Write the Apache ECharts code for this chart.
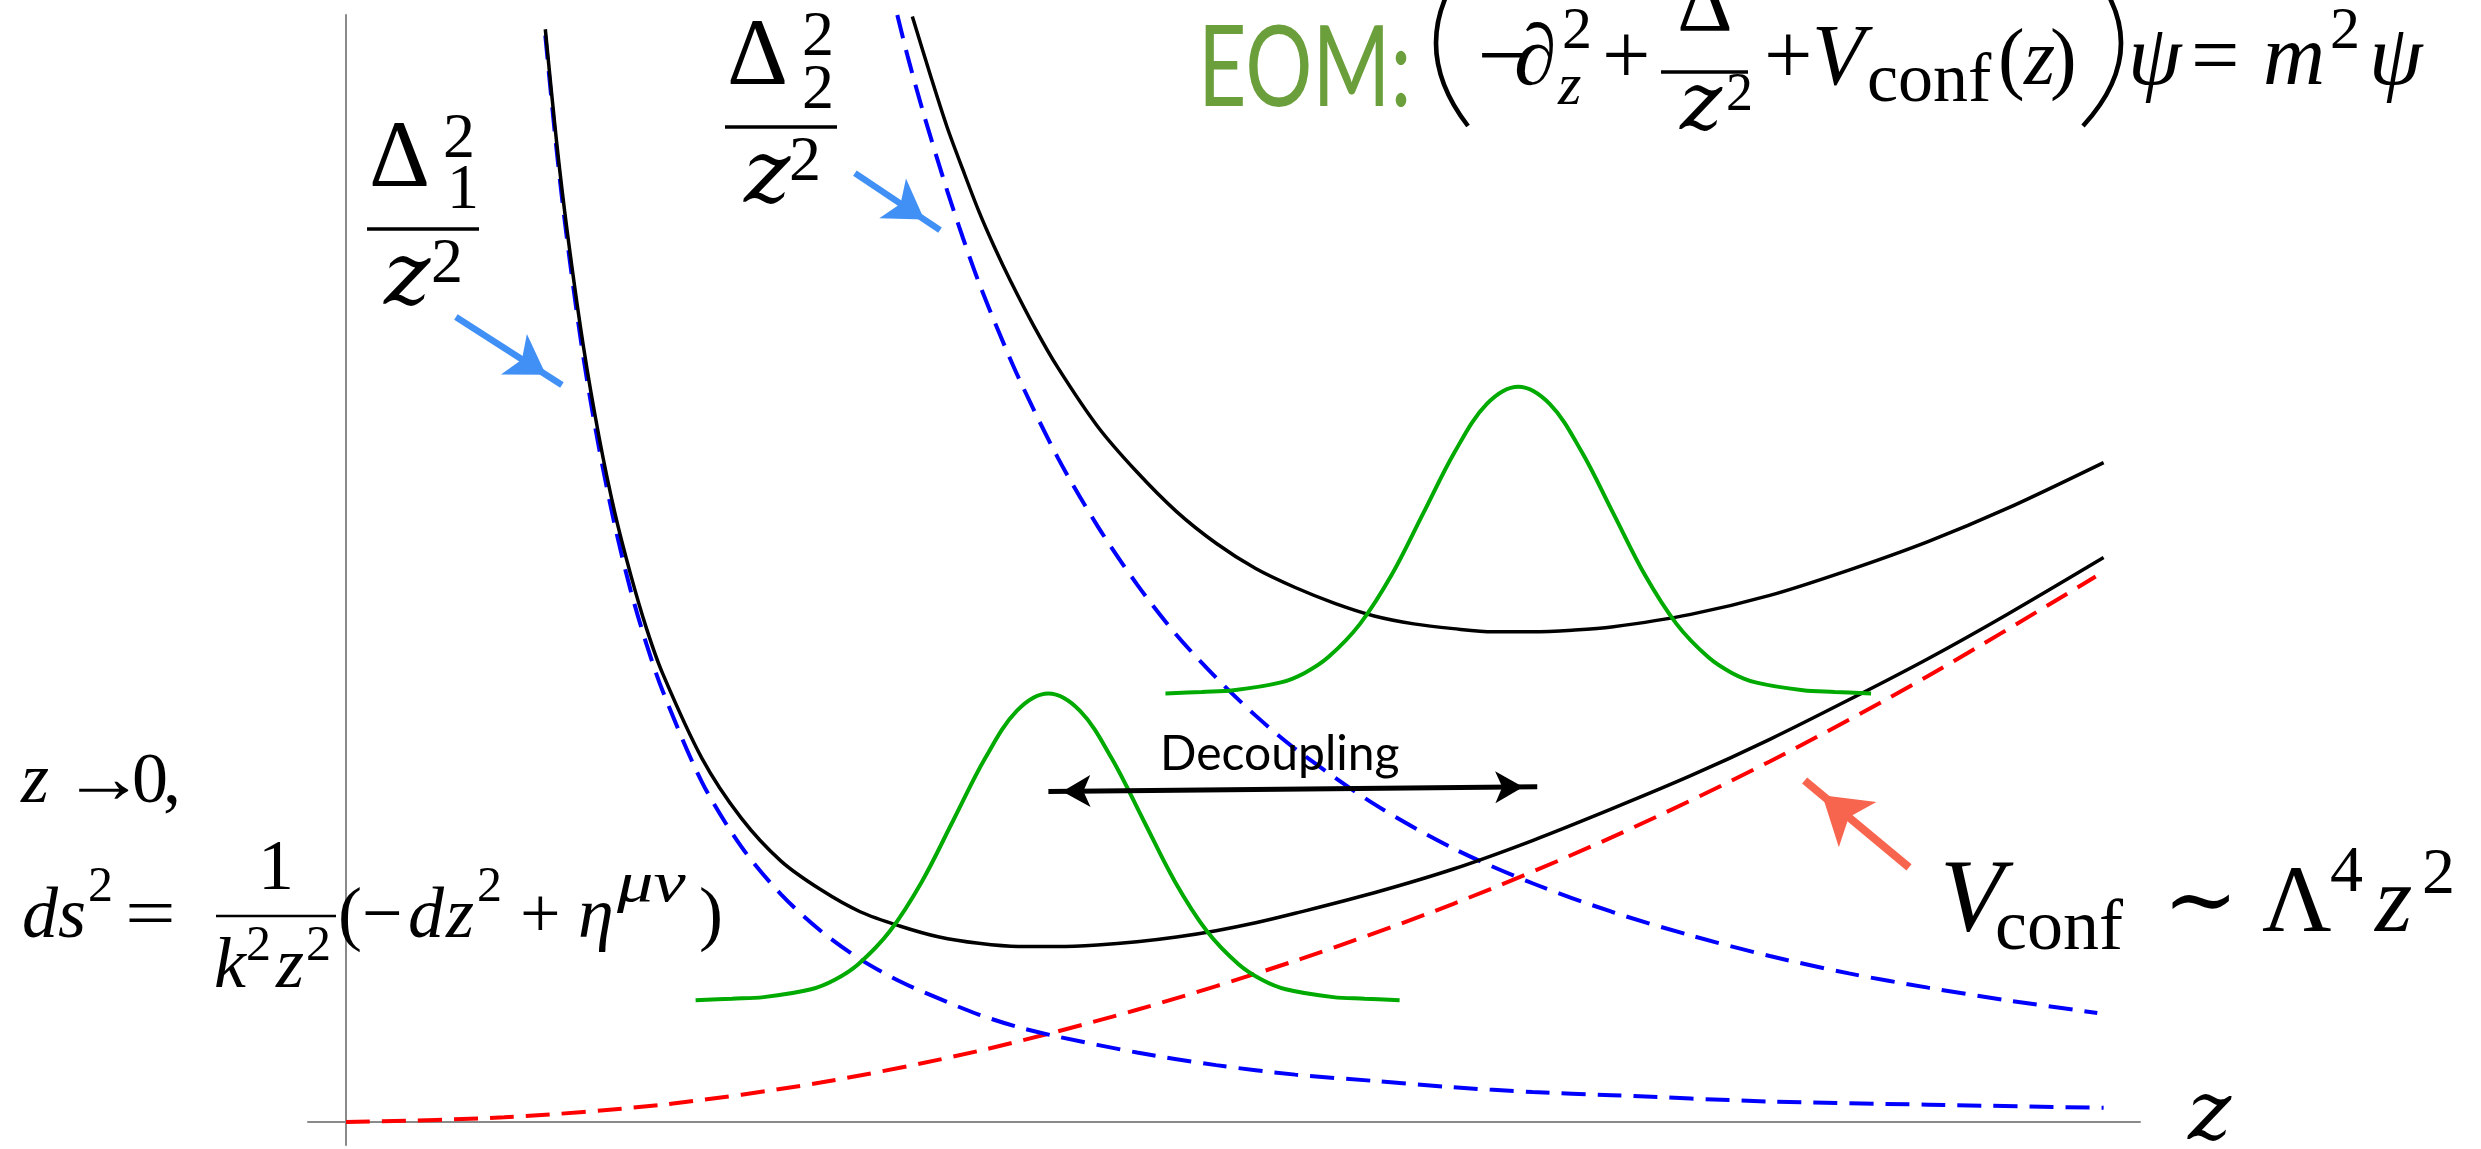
<!DOCTYPE html>
<html><head><meta charset="utf-8">
<script src="https://cdn.jsdelivr.net/npm/echarts@6/dist/echarts.min.js"></script>
<style>html,body{margin:0;padding:0;background:#fff;overflow:hidden}#c{width:2481px;height:1149px}
#pre{position:absolute;left:-5000px;top:0;font-size:40px}</style>
</head><body>
<div id="pre"><span style="font-family:'Liberation Serif'">ΔΛ2z(</span><span style="font-family:'Liberation Serif';font-style:italic">zVψηk∂</span><span style="font-family:'DejaVu Serif'">∼Δz</span><span style="font-family:'DejaVu Serif';font-style:italic">z</span><span style="font-family:Lato">EOM Decoupling</span></div>
<div id="c"></div>
<script>
// ---- data (x = z, y = potential, arbitrary units) ----
const z_conf = [0,1,2,3,4,5,6,7,8,9,10,11.06];
const v_conf = [0,0.03,0.11,0.25,0.45,0.71,1.02,1.38,1.80,2.28,2.82,3.45];

const z_d1 = [1.26,1.33,1.4,1.5,1.6,1.7,1.8,1.9,2.0,2.25,2.5,2.75,3.0,3.25,3.5,3.75,4.0,4.25,4.5,5.0,5.5,6.0,6.5,7.0,7.5,8.0,9.0,10.0,11.11];
const v_d1 = [6.87,6.16,5.56,4.84,4.26,3.77,3.36,3.02,2.73,2.15,1.74,1.44,1.21,1.03,0.89,0.78,0.68,0.60,0.54,0.44,0.36,0.30,0.26,0.22,0.19,0.17,0.13,0.11,0.09];

const z_tot1 = [1.26,1.33,1.4,1.5,1.6,1.7,1.8,1.9,2.0,2.25,2.5,2.75,3.0,3.25,3.5,3.75,4.0,4.25,4.5,4.75,5.0,5.25,5.5,5.75,6.0,6.5,7.0,7.5,8.0,8.5,9.0,9.5,10.0,10.5,11.11];
const v_tot1 = [6.91,6.21,5.62,4.91,4.33,3.85,3.46,3.12,2.84,2.30,1.92,1.65,1.47,1.33,1.24,1.17,1.13,1.11,1.11,1.12,1.14,1.17,1.21,1.26,1.32,1.45,1.60,1.78,1.98,2.19,2.42,2.67,2.93,3.21,3.57];

const z_d2 = [3.485,3.55,3.65,3.8,3.9,4.0,4.1,4.25,4.5,4.75,5.0,5.25,5.5,5.75,6.0,6.5,7.0,7.5,8.0,8.5,9.0,9.5,10.0,10.5,11.07];
const v_d2 = [7.00,6.74,6.38,5.89,5.59,5.31,5.06,4.71,4.20,3.77,3.40,3.08,2.81,2.57,2.36,2.01,1.73,1.51,1.33,1.18,1.05,0.94,0.85,0.77,0.69];

const z_tot2 = [3.58,3.7,3.8,3.9,4.0,4.1,4.2,4.35,4.5,4.75,5.0,5.25,5.5,5.75,6.0,6.25,6.5,6.75,7.0,7.25,7.5,7.75,8.0,8.5,9.0,9.5,10.0,10.5,11.11];
const v_tot2 = [6.99,6.60,6.29,6.02,5.76,5.53,5.32,5.03,4.77,4.40,4.11,3.86,3.66,3.50,3.38,3.28,3.20,3.15,3.12,3.10,3.10,3.11,3.13,3.21,3.33,3.49,3.67,3.88,4.17];

const z_psi1 = [2.21,2.44,2.64,2.94,3.09,3.24,3.44,3.64,3.84,4.04,4.24,4.44,4.64,4.84,5.04,5.24,5.44,5.64,5.79,5.94,6.24,6.44,6.66];
const v_psi1 = [0.77,0.78,0.79,0.84,0.90,1.00,1.21,1.52,1.91,2.30,2.60,2.71,2.60,2.30,1.91,1.52,1.21,1.00,0.90,0.84,0.79,0.78,0.77];

const z_psi2 = [5.18,5.41,5.61,5.91,6.06,6.21,6.41,6.61,6.81,7.01,7.21,7.41,7.61,7.81,8.01,8.21,8.41,8.61,8.76,8.91,9.21,9.41,9.64];
const v_psi2 = [2.71,2.72,2.73,2.78,2.84,2.94,3.15,3.46,3.85,4.24,4.54,4.65,4.54,4.24,3.85,3.46,3.15,2.94,2.84,2.78,2.73,2.72,2.71];

// annotation arrows: [tail, head] in data coordinates
const arrow_delta1 = [[0.695,5.09],[1.365,4.66]];
const arrow_delta2 = [[3.217,6.00],[3.755,5.64]];
const arrow_conf   = [[9.88,1.61],[9.22,2.16]];
const arrow_decoup = [[4.44,2.09],[7.53,2.12]];

// ---- helpers ----
const pts = (xs, ys) => xs.map((x, i) => [x, ys[i]]);
const SERIF = 'Liberation Serif';
const DSERIF = 'DejaVu Serif';
const SANS = 'Lato';
function txt(t, x, base, size, o) {
  o = o || {};
  const fam = o.fam || SERIF;
  const k = o.k != null ? o.k : (fam === SANS ? 0.387 : (fam === DSERIF ? 0.346 : 0.3375));
  const al = o.al || 'left';
  const el = {type:'text', x:x, y: base - k*size, silent:true, z:100,
    style:{text:t, fontFamily:fam, fontSize:size, fontStyle:o.it ? 'italic' : 'normal', fontWeight:'normal',
      fill:o.c || '#000', textAlign:al, textVerticalAlign:'middle', align:al, verticalAlign:'middle'}};
  if (o.sx) el.scaleX = o.sx;
  return el;
}
function bar(x, y, w, h) {
  return {type:'rect', silent:true, z:100, shape:{x:x, y:y - h/2, width:w, height:h}, style:{fill:'#000'}};
}
function paren(x1, y1, y2, cpx) {
  return {type:'bezierCurve', silent:true, z:100,
    shape:{x1:x1, y1:y1, x2:x1, y2:y2, cpx1:cpx, cpy1:(y1+y2)/2},
    style:{stroke:'#000', lineWidth:4.5, fill:null}};
}
const I = {it:true};
const DI = {it:true, fam:DSERIF};
const EB = 90, ES = 86, ESS = 60; // EOM formula baseline / sizes

const texts = [
  // z -> 0,
  txt('z', 21, 807, 72, I), txt('→', 62, 807, 72, {sx:1.15}), txt('0', 132, 807, 72), txt(',', 163, 807, 72),
  // ds^2 = 1/(k^2 z^2)(-dz^2 + eta^{mu nu})
  txt('ds', 22, 942, 72, I), txt('2', 88, 905, 50), txt('=', 125, 942, 72, {sx:1.25}),
  bar(216, 916, 120, 2.5),
  txt('1', 258, 894, 72),
  txt('k', 214, 992, 72, I), txt('2', 246, 964, 50), txt('z', 276, 992, 72, I), txt('2', 306, 964, 50),
  txt('(', 338, 942, 72), txt('−', 362, 942, 72), txt('d', 408, 942, 72, I), txt('z', 446, 942, 72, I),
  txt('2', 477, 905, 50), txt('+', 520, 942, 72), txt('η', 578, 942, 72, I), txt('μν', 617, 905, 58, {it:true, sx:1.25}),
  txt(')', 699, 942, 72),
  // V_conf ~ Lambda^4 z^2
  txt('V', 1940, 938, 104, I), txt('conf', 1995, 954, 72),
  txt('∼', 2163, 938, 90, {fam:DSERIF}),
  txt('Λ', 2262, 938, 96), txt('4', 2330, 896, 66), txt('z', 2375, 938, 96, I), txt('2', 2422, 898, 66),
  // axis label
  txt('z', 2188, 1146, 82, DI),
  // Decoupling
  txt('Decoupling', 1160, 773, 48, {fam:SANS}),
  // EOM
  txt('EOM:', 1198, 113, 112, {fam:SANS, c:'#6a9f3b', sx:0.75}),
  paren(1468, -40, 126, 1404),
  txt('−', 1478, EB, ES), txt('∂', 1514, EB, ES, I), txt('2', 1562, EB-38, ESS), txt('z', 1558, EB+18, ESS, I),
  txt('+', 1602, EB, ES),
  bar(1661, 72, 87, 3.5),
  txt('Δ', 1705, 36, ES, {al:'center'}),
  txt('z', 1680, 136, 80, DI), txt('2', 1726, 114, 54),
  txt('+', 1764, EB, ES),
  txt('V', 1812, EB, ES, I), txt('conf', 1867, EB+16, 70),
  txt('(', 1998, EB, 80), txt('z', 2024, EB, 80, I), txt(')', 2050, EB, 80),
  paren(2083, -40, 126, 2159),
  txt('ψ', 2128, EB, ES, I), txt('=', 2191, EB, ES), txt('m', 2263, EB, ES, I), txt('2', 2330, EB-38, ESS),
  txt('ψ', 2369, EB, ES, I),
  // Delta_1^2 / z^2
  txt('Δ', 369, 193, 95), txt('2', 443, 162, 64), txt('1', 447, 213, 64),
  bar(367, 229, 112, 3.5),
  txt('z', 384, 312, 88, DI), txt('2', 431, 287, 64),
  // Delta_2^2 / z^2
  txt('Δ', 727, 91, 95), txt('2', 802, 60, 64), txt('2', 802, 113, 64),
  bar(725, 127, 112, 3.5),
  txt('z', 744, 210, 88, DI), txt('2', 789, 185, 64)
];

const axisCommon = {type:'value', axisLine:{show:true, onZero:true, lineStyle:{color:'#8a8a8a', width:2}},
  axisTick:{show:false}, axisLabel:{show:false}, splitLine:{show:false}};

function lineSeries(name, data, color, width, dashed, smooth, extra) {
  return Object.assign({name:name, type:'line', data:data, showSymbol:false, symbol:'none', smooth:smooth,
    lineStyle:{color:color, width:width, type: dashed ? dashed : 'solid', cap:'butt'},
    emphasis:{disabled:true}, silent:true, clip:true}, extra || {});
}
const ml = (arrs, color, width, size, both) => ({
  silent:true, animation:false, label:{show:false}, emphasis:{disabled:true},
  symbol: both ? ['arrow','arrow'] : ['none','arrow'], symbolSize:size,
  symbolOffset: both ? [[0, size[1]/2],[0, size[1]/2]] : [0, [0, size[1]/2]],
  lineStyle:{color:color, width:width, type:'solid', opacity:1},
  data: arrs.map(a => [{coord:a[0]}, {coord:a[1]}])
});

const DASH = [24, 12];
const option = {
  animation:false,
  backgroundColor:'#ffffff',
  grid:{left:308, top:15, width:1832, height:1130, containLabel:false, outerBoundsMode:'none'},
  xAxis:Object.assign({min:-0.24, max:11.34}, axisCommon),
  yAxis:Object.assign({min:-0.145, max:7.0}, axisCommon),
  series:[
    lineSeries('conf', pts(z_conf, v_conf), '#ff0000', 4, DASH, 0.3,
      {markLine: ml([arrow_conf], '#f8654f', 8, [44,46], false)}),
    lineSeries('delta1', pts(z_d1, v_d1), '#0000ff', 4, DASH, 0.3,
      {markLine: ml([arrow_delta1, arrow_delta2], '#4190f5', 6.5, [36,38], false)}),
    lineSeries('delta2', pts(z_d2, v_d2), '#0000ff', 4, DASH, 0.3),
    lineSeries('total1', pts(z_tot1, v_tot1), '#000000', 3.5, null, 0.3),
    lineSeries('total2', pts(z_tot2, v_tot2), '#000000', 3.5, null, 0.3),
    lineSeries('psi1', pts(z_psi1, v_psi1), '#00aa00', 4, null, 0.35,
      {markLine: ml([arrow_decoup], '#000000', 5, [24,28], true)}),
    lineSeries('psi2', pts(z_psi2, v_psi2), '#00aa00', 4, null, 0.35)
  ],
  graphic:{elements:texts}
};

document.body.offsetWidth;
const chart = echarts.init(document.getElementById('c'), null, {renderer:'canvas', width:2481, height:1149});
chart.setOption(option);
if (document.fonts && document.fonts.ready) {
  document.fonts.ready.then(() => { chart.clear(); chart.setOption(option, true); });
}
</script>
</body></html>
